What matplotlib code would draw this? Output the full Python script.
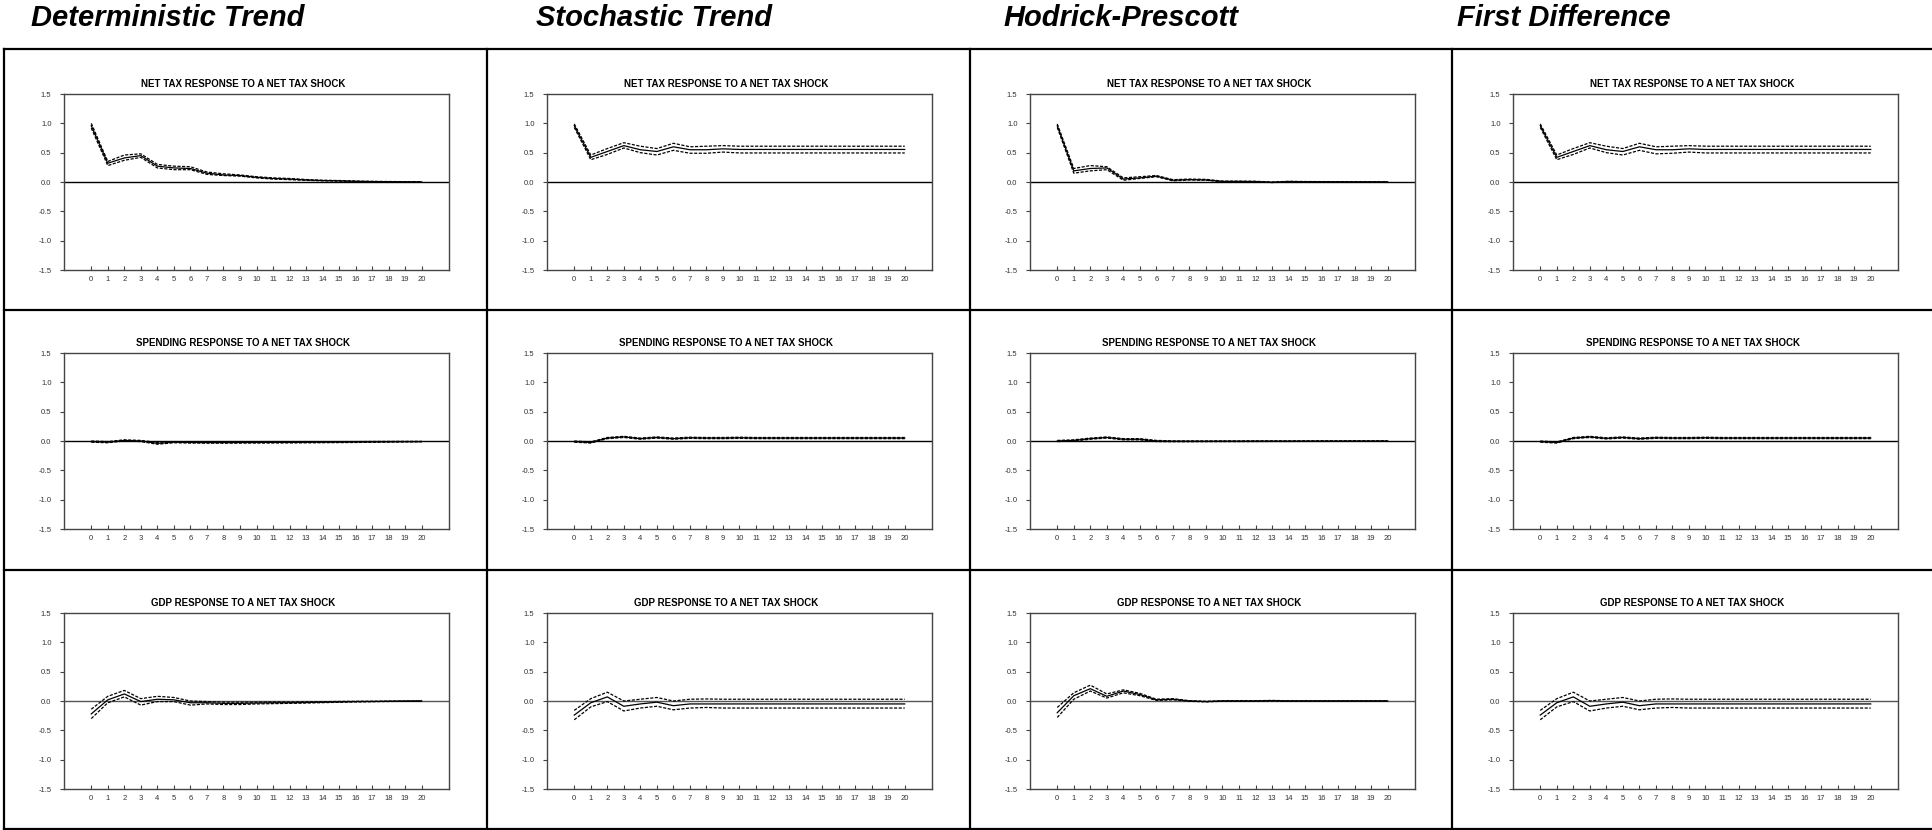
import numpy as np
import matplotlib
matplotlib.use("Agg")
import matplotlib.pyplot as plt
from matplotlib.lines import Line2D

plt.rcParams['font.family'] = ['Liberation Sans', 'DejaVu Sans']

horizon = list(range(21))
columnTitles = ["Deterministic Trend", "Stochastic Trend", "Hodrick-Prescott", "First Difference"]
rowTitles = ["NET TAX RESPONSE TO A NET TAX SHOCK",
             "SPENDING RESPONSE TO A NET TAX SHOCK",
             "GDP RESPONSE TO A NET TAX SHOCK"]
yticks = [-1.5, -1.0, -0.5, 0.0, 0.5, 1.0, 1.5]

# net tax response (mid, lower band, upper band)
taxDetMid = [0.96, 0.32, 0.41, 0.45, 0.27, 0.24, 0.23, 0.15, 0.12, 0.11, 0.08, 0.06, 0.05, 0.035, 0.025, 0.02, 0.012, 0.008, 0.005, 0.003, 0.001]
taxDetLo = [0.92, 0.28, 0.37, 0.42, 0.24, 0.21, 0.21, 0.13, 0.11, 0.10, 0.07, 0.05, 0.04, 0.028, 0.02, 0.015, 0.008, 0.005, 0.002, 0.0, -0.002]
taxDetHi = [1.00, 0.35, 0.46, 0.48, 0.30, 0.27, 0.26, 0.17, 0.14, 0.12, 0.09, 0.07, 0.06, 0.042, 0.03, 0.025, 0.016, 0.011, 0.008, 0.006, 0.004]

taxStoMid = [0.96, 0.42, 0.52, 0.62, 0.55, 0.52, 0.60, 0.55, 0.55, 0.565, 0.555, 0.555, 0.555, 0.555, 0.555, 0.555, 0.555, 0.555, 0.555, 0.555, 0.555]
taxStoLo = [0.93, 0.38, 0.47, 0.58, 0.50, 0.46, 0.54, 0.49, 0.49, 0.51, 0.495, 0.495, 0.495, 0.495, 0.495, 0.495, 0.495, 0.495, 0.495, 0.495, 0.495]
taxStoHi = [0.99, 0.46, 0.57, 0.67, 0.61, 0.57, 0.66, 0.60, 0.61, 0.62, 0.61, 0.61, 0.61, 0.61, 0.61, 0.61, 0.61, 0.61, 0.61, 0.61, 0.61]

taxHpMid = [0.96, 0.19, 0.23, 0.24, 0.05, 0.07, 0.10, 0.03, 0.04, 0.035, 0.01, 0.01, 0.008, -0.005, 0.008, 0.005, 0.004, 0.003, 0.002, 0.002, 0.001]
taxHpLo = [0.93, 0.15, 0.19, 0.21, 0.03, 0.06, 0.09, 0.02, 0.035, 0.03, 0.005, 0.005, 0.004, -0.01, 0.004, 0.002, 0.001, 0.0, 0.0, 0.0, 0.0]
taxHpHi = [0.99, 0.23, 0.28, 0.26, 0.07, 0.09, 0.11, 0.04, 0.05, 0.045, 0.015, 0.015, 0.012, 0.0, 0.012, 0.008, 0.007, 0.006, 0.004, 0.004, 0.002]

taxFdMid = [0.96, 0.42, 0.52, 0.62, 0.55, 0.52, 0.60, 0.55, 0.55, 0.565, 0.555, 0.555, 0.555, 0.555, 0.555, 0.555, 0.555, 0.555, 0.555, 0.555, 0.555]
taxFdLo = [0.93, 0.38, 0.47, 0.58, 0.50, 0.46, 0.54, 0.48, 0.49, 0.51, 0.495, 0.495, 0.495, 0.495, 0.495, 0.495, 0.495, 0.495, 0.495, 0.495, 0.495]
taxFdHi = [0.99, 0.46, 0.57, 0.67, 0.61, 0.57, 0.66, 0.60, 0.61, 0.62, 0.61, 0.61, 0.61, 0.61, 0.61, 0.61, 0.61, 0.61, 0.61, 0.61, 0.61]

# spending response
spDetMid = [-0.01, -0.02, 0.01, 0.0, -0.04, -0.02, -0.025, -0.027, -0.027, -0.026, -0.025, -0.024, -0.023, -0.022, -0.02, -0.019, -0.017, -0.015, -0.013, -0.011, -0.01]
spDetLo = [-0.02, -0.03, 0.0, -0.01, -0.055, -0.03, -0.035, -0.037, -0.037, -0.036, -0.035, -0.034, -0.033, -0.031, -0.029, -0.027, -0.025, -0.022, -0.019, -0.016, -0.014]
spDetHi = [0.0, -0.01, 0.02, 0.01, -0.025, -0.01, -0.015, -0.017, -0.017, -0.016, -0.015, -0.014, -0.013, -0.013, -0.012, -0.011, -0.01, -0.008, -0.007, -0.006, -0.006]

spStoMid = [-0.01, -0.025, 0.05, 0.07, 0.04, 0.06, 0.04, 0.055, 0.05, 0.05, 0.055, 0.05, 0.05, 0.05, 0.05, 0.05, 0.05, 0.05, 0.05, 0.05, 0.05]
spStoLo = [-0.02, -0.035, 0.04, 0.06, 0.03, 0.05, 0.03, 0.045, 0.04, 0.04, 0.045, 0.04, 0.04, 0.04, 0.04, 0.04, 0.04, 0.04, 0.04, 0.04, 0.04]
spStoHi = [0.0, -0.015, 0.06, 0.08, 0.05, 0.07, 0.05, 0.065, 0.06, 0.06, 0.065, 0.06, 0.06, 0.06, 0.06, 0.06, 0.06, 0.06, 0.06, 0.06, 0.06]

spHpMid = [0.0, 0.01, 0.04, 0.06, 0.03, 0.03, 0.0, -0.005, -0.005, -0.005, -0.004, -0.004, -0.003, -0.003, -0.003, -0.002, -0.002, -0.002, -0.001, -0.001, -0.001]
spHpLo = [-0.01, 0.0, 0.03, 0.05, 0.02, 0.02, -0.01, -0.012, -0.012, -0.011, -0.01, -0.01, -0.009, -0.008, -0.008, -0.007, -0.007, -0.006, -0.006, -0.005, -0.005]
spHpHi = [0.01, 0.02, 0.05, 0.07, 0.04, 0.04, 0.01, 0.002, 0.002, 0.001, 0.002, 0.002, 0.003, 0.002, 0.002, 0.003, 0.003, 0.002, 0.004, 0.003, 0.003]

spFdMid = [-0.01, -0.025, 0.05, 0.07, 0.045, 0.06, 0.04, 0.055, 0.05, 0.05, 0.055, 0.05, 0.05, 0.05, 0.05, 0.05, 0.05, 0.05, 0.05, 0.05, 0.05]
spFdLo = [-0.02, -0.035, 0.04, 0.06, 0.035, 0.05, 0.03, 0.045, 0.04, 0.04, 0.045, 0.04, 0.04, 0.04, 0.04, 0.04, 0.04, 0.04, 0.04, 0.04, 0.04]
spFdHi = [0.0, -0.015, 0.06, 0.08, 0.055, 0.07, 0.05, 0.065, 0.06, 0.06, 0.065, 0.06, 0.06, 0.06, 0.06, 0.06, 0.06, 0.06, 0.06, 0.06, 0.06]

# gdp response
gdpDetMid = [-0.22, 0.02, 0.12, -0.01, 0.03, 0.02, -0.03, -0.03, -0.04, -0.04, -0.035, -0.03, -0.03, -0.025, -0.02, -0.015, -0.01, -0.008, -0.005, -0.003, 0.0]
gdpDetLo = [-0.30, -0.03, 0.07, -0.07, -0.01, -0.01, -0.07, -0.05, -0.06, -0.06, -0.05, -0.045, -0.04, -0.035, -0.028, -0.022, -0.016, -0.012, -0.008, -0.005, -0.002]
gdpDetHi = [-0.14, 0.08, 0.18, 0.04, 0.08, 0.06, 0.0, -0.01, -0.02, -0.02, -0.02, -0.017, -0.018, -0.015, -0.012, -0.008, -0.005, -0.004, -0.002, 0.0, 0.002]

gdpStoMid = [-0.24, -0.03, 0.07, -0.09, -0.05, -0.02, -0.08, -0.05, -0.05, -0.05, -0.05, -0.05, -0.05, -0.05, -0.05, -0.05, -0.05, -0.05, -0.05, -0.05, -0.05]
gdpStoLo = [-0.32, -0.10, -0.01, -0.17, -0.12, -0.09, -0.15, -0.12, -0.11, -0.12, -0.12, -0.12, -0.12, -0.12, -0.12, -0.12, -0.12, -0.12, -0.12, -0.12, -0.12]
gdpStoHi = [-0.16, 0.04, 0.15, 0.0, 0.03, 0.06, 0.0, 0.03, 0.035, 0.03, 0.03, 0.03, 0.03, 0.03, 0.03, 0.03, 0.03, 0.03, 0.03, 0.03, 0.03]

gdpHpMid = [-0.20, 0.09, 0.21, 0.08, 0.17, 0.11, 0.02, 0.03, 0.0, -0.01, 0.0, 0.0, 0.0, 0.005, 0.0, 0.0, 0.0, 0.0, 0.0, 0.0, 0.0]
gdpHpLo = [-0.28, 0.03, 0.17, 0.05, 0.14, 0.09, 0.01, 0.02, -0.005, -0.015, -0.005, -0.005, -0.005, 0.0, -0.004, -0.004, -0.003, -0.003, -0.003, -0.003, -0.003]
gdpHpHi = [-0.11, 0.14, 0.27, 0.12, 0.19, 0.13, 0.03, 0.04, 0.005, -0.005, 0.005, 0.005, 0.005, 0.01, 0.004, 0.004, 0.003, 0.003, 0.003, 0.003, 0.003]

gdpFdMid = [-0.24, -0.03, 0.07, -0.09, -0.05, -0.02, -0.08, -0.05, -0.05, -0.05, -0.05, -0.05, -0.05, -0.05, -0.05, -0.05, -0.05, -0.05, -0.05, -0.05, -0.05]
gdpFdLo = [-0.32, -0.10, -0.01, -0.17, -0.12, -0.09, -0.15, -0.12, -0.11, -0.12, -0.12, -0.12, -0.12, -0.12, -0.12, -0.12, -0.12, -0.12, -0.12, -0.12, -0.12]
gdpFdHi = [-0.16, 0.04, 0.15, 0.0, 0.03, 0.06, 0.0, 0.03, 0.035, 0.03, 0.03, 0.03, 0.03, 0.03, 0.03, 0.03, 0.03, 0.03, 0.03, 0.03, 0.03]

panels = [
    [(taxDetMid, taxDetLo, taxDetHi), (taxStoMid, taxStoLo, taxStoHi), (taxHpMid, taxHpLo, taxHpHi), (taxFdMid, taxFdLo, taxFdHi)],
    [(spDetMid, spDetLo, spDetHi), (spStoMid, spStoLo, spStoHi), (spHpMid, spHpLo, spHpHi), (spFdMid, spFdLo, spFdHi)],
    [(gdpDetMid, gdpDetLo, gdpDetHi), (gdpStoMid, gdpStoLo, gdpStoHi), (gdpHpMid, gdpHpLo, gdpHpHi), (gdpFdMid, gdpFdLo, gdpFdHi)],
]

W, H = 1933.0, 830.0
fig = plt.figure(figsize=(W / 100, H / 100), dpi=100)

colLefts = [64, 547, 1030, 1513]
rowTops = [94, 353, 613]
axW, axH = 385, 176
headerX = [31, 536, 1003, 1457]

# panel frame lines
for x in [4, 487, 970, 1452]:
    fig.add_artist(Line2D([x / W, x / W], [0, 1 - 49 / H], color='black', lw=1.6))
for y in [49, 310, 570, 829]:
    fig.add_artist(Line2D([4 / W, 1], [1 - y / H, 1 - y / H], color='black', lw=1.6))

for c, title in enumerate(columnTitles):
    fig.text(headerX[c] / W, 1 - 18 / H, title, fontsize=21, fontweight='bold', style='italic', ha='left', va='center')

for r in range(3):
    for c in range(4):
        ax = fig.add_axes([colLefts[c] / W, 1 - (rowTops[r] + axH) / H, axW / W, axH / H])
        mid, lo, hi = panels[r][c]
        ax.axhline(0, color='black' if r < 2 else '#555555', lw=1.0, zorder=1)
        ax.plot(horizon, mid, color='black', lw=0.9, zorder=3)
        ax.plot(horizon, lo, color='black', lw=0.9, ls=(0, (2.5, 1.2)), zorder=3)
        ax.plot(horizon, hi, color='black', lw=0.9, ls=(0, (2.5, 1.2)), zorder=3)
        ax.set_xlim(-1.65, 21.65)
        ax.set_ylim(-1.5, 1.5)
        ax.set_yticks(yticks)
        ax.set_yticklabels(["{:.1f}".format(v) for v in yticks])
        ax.set_xticks(horizon)
        ax.set_xticklabels([str(h) for h in horizon])
        ax.tick_params(axis='y', direction='out', length=3, width=0.8, labelsize=5.5, labelcolor='#333333', color='#444444', pad=6)
        ax.tick_params(axis='x', direction='in', length=3, width=0.8, labelsize=5.5, labelcolor='#333333', color='#444444', pad=4)
        for s in ax.spines.values():
            s.set_color('#444444')
            s.set_linewidth(1.0)
        ax.text(0.5 - 13.0 / axW, 1.0 + 10 / axH, rowTitles[r], transform=ax.transAxes, ha='center', va='center',
                fontsize=7.0, fontweight='bold')

fig.savefig("out.png", dpi=100)
